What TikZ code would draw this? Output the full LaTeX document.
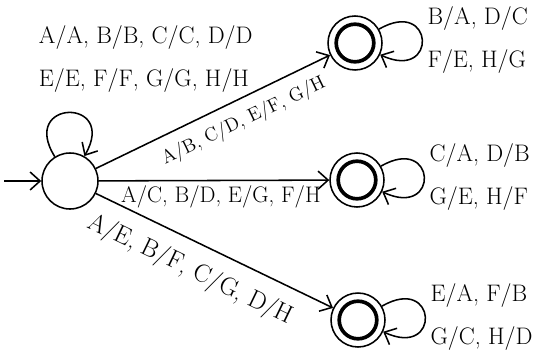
\documentclass[tikz,border=0pt]{standalone}
\usepackage{tikz}
\usetikzlibrary{arrows.meta}
\tikzset{
    state/.style={circle, draw, line width=1.1pt, minimum size=1.4cm, inner sep=0pt},
    accept/.style={circle, draw, line width=1.1pt, minimum size=1.35cm, inner sep=0pt},
    trans/.style={line width=1.1pt, -{Straight Barb[length=2.5mm, width=4.5mm]}},
    lbl/.style={font=\fontsize{17}{31}\selectfont, align=left}
}

\begin{document}
\begin{tikzpicture}
    \useasboundingbox (0,0) rectangle (13.925,8.975);
    \node [state] (q0) at (1.75,4.45) {};
    \node [accept] (q1) at (8.875,7.9) {};
    \node [accept] (q2) at (8.925,4.475) {};
    \node [accept] (q3) at (8.95,0.975) {};
    \foreach \q in {q1,q2,q3}
        \draw [line width=2.6pt] (\q) circle (0.47);
    \coordinate (start) at (0.1,4.45);
    \draw [trans] (start) -- (q0);
    \draw [trans] (q0) to [out=122, in=60, loop, min distance=1.7cm] (q0);
    \node [lbl, anchor=west] (l0) at (0.85,7.5) {A/A, B/B, C/C, D/D\\E/E, F/F, G/G, H/H};
    \draw [trans] (q0) -- (q1) node (e1) [lbl, font=\fontsize{13.5}{31}\selectfont, pos=0.59, sloped, below=5pt] {A/B, C/D, E/F, G/H};
    \draw [trans] (q0) -- (q2) node (e2) [lbl, font=\fontsize{16}{31}\selectfont, pos=0.53, below] {A/C, B/D, E/G, F/H};
    \draw [trans] (q0) -- (q3) node (e3) [lbl, font=\fontsize{18}{31}\selectfont, pos=0.45, sloped, below=7pt] {A/E, B/F, C/G, D/H};
    \draw [trans] (q1) to [out=30, in=-25, loop, min distance=1.6cm] node (l1) [lbl, right] {B/A, D/C\\F/E, H/G} (q1);
    \draw [trans] (q2) to [out=30, in=-25, loop, min distance=1.6cm] node (l2) [lbl, right] {C/A, D/B\\G/E, H/F} (q2);
    \draw [trans] (q3) to [out=30, in=-25, loop, min distance=1.6cm] node (l3) [lbl, right] {E/A, F/B\\G/C, H/D} (q3);
\end{tikzpicture}
\end{document}
